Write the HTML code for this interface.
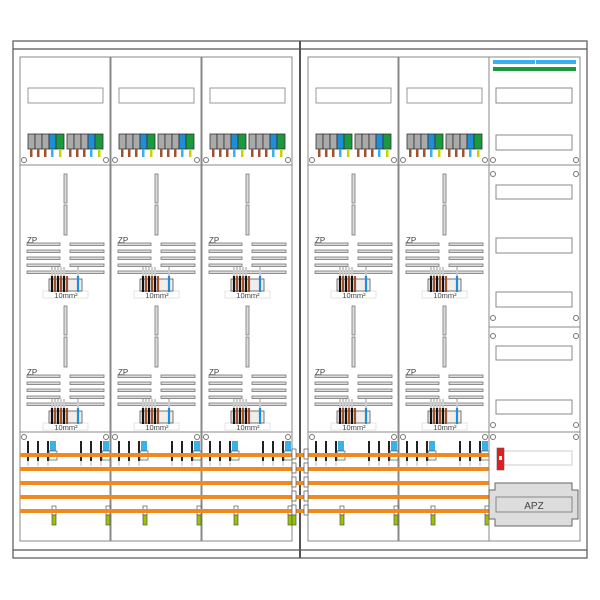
<!DOCTYPE html>
<html><head><style>body{margin:0;background:#fff}svg{display:block}</style></head><body>
<svg width="600" height="600" viewBox="0 0 600 600" xmlns="http://www.w3.org/2000/svg" font-family="Liberation Sans, sans-serif">
<defs>
<g id="tb">
 <rect x="0" y="0" width="7" height="15" fill="#aaa" stroke="#333" stroke-width="0.8"/>
 <rect x="7" y="0" width="7" height="15" fill="#aaa" stroke="#333" stroke-width="0.8"/>
 <rect x="14" y="0" width="7" height="15" fill="#aaa" stroke="#333" stroke-width="0.8"/>
 <rect x="21" y="0" width="7" height="15" fill="#1e8fd6" stroke="#333" stroke-width="0.8"/>
 <rect x="28" y="0" width="8" height="15" fill="#1a9a3c" stroke="#333" stroke-width="0.8"/>
 <rect x="2" y="15" width="2.5" height="8" fill="#a0522d"/>
 <rect x="9" y="15" width="2.5" height="8" fill="#a0522d"/>
 <rect x="16" y="15" width="2.5" height="8" fill="#a0522d"/>
 <rect x="23" y="15" width="2.5" height="8" fill="#3ab0ef"/>
 <rect x="31" y="15" width="2.5" height="8" fill="#c8d400"/>
</g>
<g id="meter">
 <rect x="44" y="0" width="3" height="29" fill="#ddd" stroke="#777" stroke-width="0.8"/>
 <rect x="44" y="31" width="3" height="30" fill="#ddd" stroke="#777" stroke-width="0.8"/>
 <g fill="#ddd" stroke="#777" stroke-width="0.8">
 <rect x="7" y="69" width="33" height="2.5"/><rect x="50" y="69" width="34" height="2.5"/>
 <rect x="7" y="76" width="33" height="2.5"/><rect x="50" y="76" width="34" height="2.5"/>
 <rect x="7" y="83" width="33" height="2.5"/><rect x="50" y="83" width="34" height="2.5"/>
 <rect x="7" y="90" width="33" height="2.5"/><rect x="50" y="90" width="34" height="2.5"/>
 <rect x="7" y="97" width="77" height="2.5"/>
 </g>
 <rect x="23" y="117" width="45" height="7" fill="none" stroke="#ddd" stroke-width="0.8"/>
 <rect x="29" y="105" width="33" height="12" fill="#eee" stroke="#555" stroke-width="0.8"/>
 <g stroke="#ccc" stroke-width="2"><line x1="32" y1="93" x2="32" y2="105"/><line x1="35" y1="93" x2="35" y2="105"/><line x1="38" y1="93" x2="38" y2="105"/><line x1="41" y1="93" x2="41" y2="105"/><line x1="44" y1="93" x2="44" y2="105"/><line x1="58" y1="93" x2="58" y2="105"/></g>
 <g stroke-width="2.2"><line x1="32" y1="102" x2="32" y2="118" stroke="#111"/><line x1="35" y1="102" x2="35" y2="118" stroke="#a0522d"/><line x1="38" y1="102" x2="38" y2="118" stroke="#111"/><line x1="41" y1="102" x2="41" y2="118" stroke="#a0522d"/><line x1="44" y1="102" x2="44" y2="118" stroke="#111"/><line x1="47" y1="102" x2="47" y2="118" stroke="#a0522d"/><line x1="58" y1="102" x2="58" y2="118" stroke="#1e8fd6"/></g>
</g>
<g id="bot">
 <circle cx="4" cy="437" r="2.5" fill="#fff" stroke="#777"/><circle cx="86" cy="437" r="2.5" fill="#fff" stroke="#777"/>
 <g stroke="#222" stroke-width="2"><line x1="8" y1="441" x2="8" y2="461"/><line x1="18" y1="441" x2="18" y2="461"/><line x1="28" y1="441" x2="28" y2="461"/><line x1="61" y1="441" x2="61" y2="461"/><line x1="71" y1="441" x2="71" y2="461"/><line x1="81" y1="441" x2="81" y2="461"/></g>
 <g stroke="#ddd" stroke-width="2"><line x1="8" y1="461" x2="8" y2="466"/><line x1="18" y1="461" x2="18" y2="466"/><line x1="28" y1="461" x2="28" y2="466"/><line x1="61" y1="461" x2="61" y2="466"/><line x1="71" y1="461" x2="71" y2="466"/><line x1="81" y1="461" x2="81" y2="466"/></g>
 <rect x="30" y="441" width="6" height="10" fill="#3ab0ef"/><rect x="83" y="441" width="6" height="10" fill="#3ab0ef"/>
 <rect x="29" y="451" width="8" height="9" fill="#fff" stroke="#555" stroke-width="0.7"/><rect x="82" y="451" width="8" height="9" fill="#fff" stroke="#555" stroke-width="0.7"/>
 <rect x="32" y="506" width="4" height="9" fill="#fff" stroke="#555" stroke-width="0.7"/><rect x="32" y="515" width="4" height="10" fill="#9bc400" stroke="#555" stroke-width="0.7"/>
 <rect x="86" y="506" width="4" height="9" fill="#fff" stroke="#555" stroke-width="0.7"/><rect x="86" y="515" width="4" height="10" fill="#9bc400" stroke="#555" stroke-width="0.7"/>
</g>
<g id="col">
 <rect x="0" y="57" width="90" height="484" fill="#fff" stroke="#888" stroke-width="1"/>
 <line x1="0" y1="165" x2="90" y2="165" stroke="#888"/>
 <line x1="0" y1="432" x2="90" y2="432" stroke="#888"/>
 <rect x="8" y="88" width="75" height="15" fill="none" stroke="#999"/>
 <use href="#tb" x="8" y="134"/><use href="#tb" x="47" y="134"/>
 <circle cx="4" cy="160" r="2.5" fill="#fff" stroke="#777"/><circle cx="86" cy="160" r="2.5" fill="#fff" stroke="#777"/>
 <use href="#meter" y="174"/><use href="#meter" y="306"/>
 <use href="#bot"/>
</g>
</defs>
<rect x="13" y="41" width="574" height="517" fill="#fff" stroke="#555" stroke-width="1.2"/>
<line x1="13" y1="49" x2="587" y2="49" stroke="#555" stroke-width="1.2"/>
<line x1="13" y1="550" x2="587" y2="550" stroke="#555" stroke-width="1.2"/>
<line x1="300" y1="41" x2="300" y2="558" stroke="#555" stroke-width="2"/>
<use href="#col" x="20"/><use href="#col" x="111"/><use href="#col" x="202"/>
<use href="#col" x="308"/><use href="#col" x="399"/>
<g fill="#f08a1e">
 <rect x="20" y="453" width="273" height="4"/><rect x="20" y="467" width="273" height="4"/><rect x="20" y="481" width="273" height="4"/><rect x="20" y="495" width="273" height="4"/><rect x="20" y="509" width="273" height="4"/>
 <rect x="308" y="453" width="181" height="4"/><rect x="308" y="467" width="181" height="4"/><rect x="308" y="481" width="181" height="4"/><rect x="308" y="495" width="181" height="4"/><rect x="308" y="509" width="181" height="4"/>
 <rect x="293" y="453" width="15" height="4"/><rect x="293" y="467" width="15" height="4"/><rect x="293" y="481" width="15" height="4"/><rect x="293" y="495" width="15" height="4"/><rect x="293" y="509" width="15" height="4"/>
</g>
<g fill="#fff" stroke="#555" stroke-width="0.7">
 <rect x="292" y="449" width="4" height="10"/><rect x="304" y="449" width="4" height="10"/>
 <rect x="292" y="463" width="4" height="10"/><rect x="304" y="463" width="4" height="10"/>
 <rect x="292" y="477" width="4" height="10"/><rect x="304" y="477" width="4" height="10"/>
 <rect x="292" y="491" width="4" height="10"/><rect x="304" y="491" width="4" height="10"/>
 <rect x="292" y="505" width="4" height="10"/><rect x="304" y="505" width="4" height="10"/>
</g>
<rect x="292" y="515" width="4" height="10" fill="#9bc400" stroke="#555" stroke-width="0.7"/>
<g font-size="8" fill="#444">
 <text x="27" y="243">ZP</text><text x="118" y="243">ZP</text><text x="209" y="243">ZP</text><text x="315" y="243">ZP</text><text x="406" y="243">ZP</text>
 <text x="27" y="375">ZP</text><text x="118" y="375">ZP</text><text x="209" y="375">ZP</text><text x="315" y="375">ZP</text><text x="406" y="375">ZP</text>
</g>
<g font-size="7.5" fill="#444" text-anchor="middle">
 <text x="66" y="298">10mm²</text><text x="157" y="298">10mm²</text><text x="248" y="298">10mm²</text><text x="354" y="298">10mm²</text><text x="445" y="298">10mm²</text>
 <text x="66" y="430">10mm²</text><text x="157" y="430">10mm²</text><text x="248" y="430">10mm²</text><text x="354" y="430">10mm²</text><text x="445" y="430">10mm²</text>
</g>
<rect x="489" y="57" width="91" height="484" fill="#fff" stroke="#888"/>
<line x1="489" y1="165" x2="580" y2="165" stroke="#888"/>
<line x1="489" y1="327" x2="580" y2="327" stroke="#888"/>
<line x1="489" y1="432" x2="580" y2="432" stroke="#888"/>
<rect x="493" y="60" width="42" height="4" fill="#3ab0ef"/><rect x="536" y="60" width="40" height="4" fill="#3ab0ef"/>
<rect x="493" y="67" width="83" height="4" fill="#1a9a3c"/>
<g fill="none" stroke="#888">
 <rect x="496" y="88" width="76" height="15"/><rect x="496" y="135" width="76" height="15"/>
 <rect x="496" y="185" width="76" height="14"/><rect x="496" y="238" width="76" height="15"/><rect x="496" y="292" width="76" height="15"/>
 <rect x="496" y="346" width="76" height="14"/><rect x="496" y="400" width="76" height="14"/>
</g>
<g fill="#fff" stroke="#777">
 <circle cx="493" cy="160" r="2.5"/><circle cx="576" cy="160" r="2.5"/>
 <circle cx="493" cy="174" r="2.5"/><circle cx="576" cy="174" r="2.5"/>
 <circle cx="493" cy="318" r="2.5"/><circle cx="576" cy="318" r="2.5"/>
 <circle cx="493" cy="336" r="2.5"/><circle cx="576" cy="336" r="2.5"/>
 <circle cx="493" cy="425" r="2.5"/><circle cx="576" cy="425" r="2.5"/>
 <circle cx="493" cy="437" r="2.5"/><circle cx="576" cy="437" r="2.5"/>
</g>
<rect x="503" y="451" width="69" height="14" fill="none" stroke="#ccc"/>
<rect x="497" y="448" width="7" height="22" fill="#e02020" stroke="#555" stroke-width="0.6"/>
<rect x="499" y="456" width="3" height="4" fill="#fff"/>
<path d="M495 483 H572 V490 H578 V519 H572 V526 H495 V519 H489 V490 H495 Z" fill="#ddd" stroke="#666"/>
<rect x="496" y="497" width="76" height="15" fill="none" stroke="#888"/>
<text x="534" y="509" font-size="10" fill="#444" text-anchor="middle">APZ</text>
</svg>
</body></html>
